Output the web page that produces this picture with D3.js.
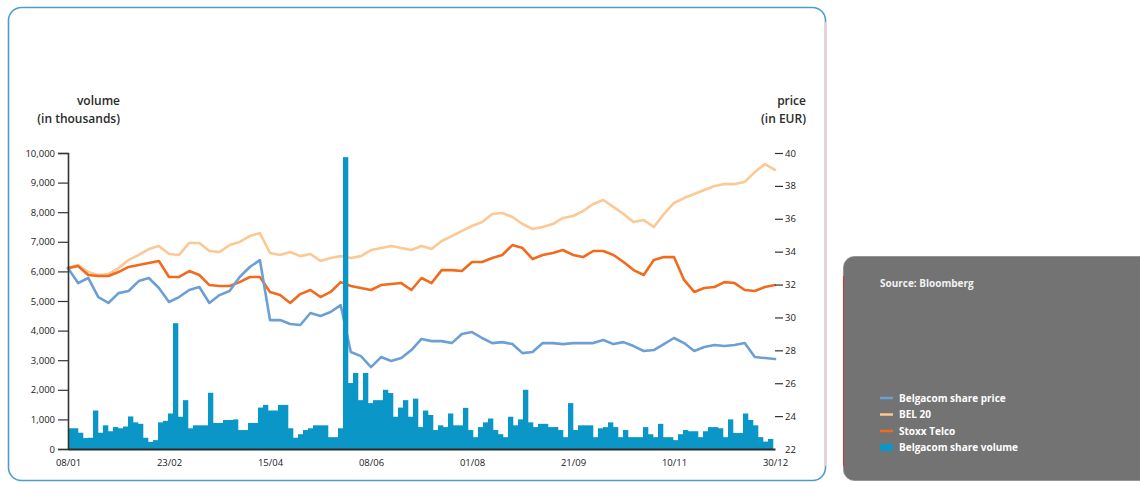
<!DOCTYPE html>
<html>
<head>
<meta charset="utf-8">
<script src="https://cdn.jsdelivr.net/npm/d3@7"></script>
<style>
  html, body { margin: 0; padding: 0; background: #fff; }
  svg { display: block; }
  text { font-family: "Open Sans", "Liberation Sans", sans-serif; }
</style>
</head>
<body>
<svg id="chart" width="1140" height="482"></svg>
<script>
// Session labels along the time axis (one every ten sampled sessions)
const dateLabels = ["08/01", "23/02", "15/04", "08/06", "01/08", "21/09", "10/11", "30/12"];

// Left axis: traded volume, in thousands of shares
const volumeTicks = [0, 1000, 2000, 3000, 4000, 5000, 6000, 7000, 8000, 9000, 10000];
// Right axis: price, in EUR
const priceTicks = [22, 24, 26, 28, 30, 32, 34, 36, 38, 40];

// Price series (EUR), sampled sessions
const belgacomPrice = [
  33.00, 32.09, 32.40, 31.24, 30.88, 31.48, 31.61, 32.21, 32.40, 31.79,
  30.94, 31.24, 31.67, 31.85, 30.88, 31.36, 31.61, 32.46, 33.07, 33.49,
  29.84, 29.84, 29.60, 29.54, 30.27, 30.09, 30.33, 30.75, 27.90, 27.65,
  26.98, 27.59, 27.35, 27.53, 28.02, 28.69, 28.56, 28.56, 28.44, 28.99,
  29.11, 28.75, 28.44, 28.50, 28.38, 27.83, 27.90, 28.44, 28.44, 28.38,
  28.44, 28.44, 28.44, 28.63, 28.38, 28.50, 28.26, 27.96, 28.02, 28.38,
  28.75, 28.44, 27.96, 28.20, 28.32, 28.26, 28.32, 28.44, 27.59, 27.53,
  27.47
];
const bel20 = [
  33.00, 33.19, 32.76, 32.58, 32.64, 33.00, 33.49, 33.80, 34.16, 34.34,
  33.86, 33.80, 34.53, 34.53, 34.04, 33.98, 34.40, 34.59, 34.95, 35.13,
  33.92, 33.80, 33.98, 33.73, 33.86, 33.43, 33.61, 33.73, 33.61, 33.73,
  34.10, 34.22, 34.34, 34.22, 34.10, 34.34, 34.16, 34.65, 34.95, 35.26,
  35.56, 35.80, 36.29, 36.35, 36.11, 35.68, 35.38, 35.50, 35.68, 36.05,
  36.17, 36.47, 36.90, 37.14, 36.72, 36.29, 35.80, 35.92, 35.50, 36.29,
  36.96, 37.26, 37.51, 37.75, 37.99, 38.11, 38.11, 38.24, 38.84, 39.33,
  38.97
];
const stoxxTelco = [
  33.00, 33.13, 32.58, 32.52, 32.52, 32.76, 33.07, 33.19, 33.31, 33.43,
  32.46, 32.46, 32.82, 32.58, 31.97, 31.91, 31.91, 32.15, 32.46, 32.46,
  31.55, 31.36, 30.88, 31.42, 31.67, 31.24, 31.55, 32.15, 31.91, 31.79,
  31.67, 31.97, 32.03, 32.09, 31.67, 32.40, 32.09, 32.88, 32.88, 32.82,
  33.37, 33.37, 33.61, 33.80, 34.40, 34.22, 33.55, 33.80, 33.92, 34.10,
  33.80, 33.67, 34.04, 34.04, 33.80, 33.37, 32.88, 32.58, 33.49, 33.67,
  33.67, 32.28, 31.55, 31.79, 31.85, 32.15, 32.09, 31.67, 31.61, 31.85,
  31.97
];

// Daily traded volume (thousands), finer sampling
const belgacomVolume = [
  700, 700, 550, 370, 380, 1300, 550, 800, 600, 740,
  700, 760, 1100, 900, 850, 380, 240, 300, 900, 950,
  1200, 4250, 1090, 1650, 700, 800, 800, 800, 1900, 880,
  880, 980, 980, 1000, 640, 640, 880, 880, 1400, 1490,
  1300, 1300, 1490, 1490, 700, 380, 500, 640, 700, 800,
  800, 800, 400, 400, 700, 9860, 2230, 2570, 1650, 2570,
  1550, 1650, 1650, 2000, 1890, 1090, 1400, 1650, 1090, 1700,
  740, 1300, 1150, 640, 800, 740, 1200, 800, 800, 1390,
  640, 400, 740, 900, 1030, 640, 500, 400, 1090, 800,
  1000, 2000, 900, 740, 850, 850, 740, 740, 640, 400,
  1550, 640, 800, 800, 800, 400, 700, 740, 900, 740,
  400, 640, 400, 400, 400, 740, 500, 400, 850, 400,
  400, 300, 500, 640, 600, 600, 400, 600, 740, 740,
  700, 400, 1000, 540, 540, 1200, 980, 800, 400, 250,
  340
];

const legendItems = [
  { label: "Belgacom share price", color: "#6c9fd6", kind: "line" },
  { label: "BEL 20", color: "#fcc894", kind: "line" },
  { label: "Stoxx Telco", color: "#f26b1d", kind: "line" },
  { label: "Belgacom share volume", color: "#0a97c8", kind: "bar" }
];

const svg = d3.select("#chart");

const plot = { left: 68, right: 775, top: 153, bottom: 449 };

const x = d3.scaleLinear().domain([0, belgacomPrice.length - 1]).range([plot.left, plot.right]);
const xBar = d3.scaleBand().domain(d3.range(belgacomVolume.length)).range([plot.left, 773]).padding(0);
const yVol = d3.scaleLinear().domain([0, 10000]).range([plot.bottom, plot.top]);
const yPrice = d3.scaleLinear().domain([22, 40]).range([plot.bottom, plot.top]);

// Outer frame
svg.append("rect")
  .attr("x", 8.5).attr("y", 7.5).attr("width", 817).attr("height", 473)
  .attr("rx", 13).attr("ry", 13)
  .attr("fill", "none").attr("stroke", "#4f9bd0").attr("stroke-width", 1.6);
svg.append("line")
  .attr("x1", 825.5).attr("x2", 825.5).attr("y1", 22).attr("y2", 466)
  .attr("stroke", "#f7c9c9").attr("stroke-width", 1.8);

// Legend panel
const lg = svg.append("g");
lg.append("rect")
  .attr("x", 843.5).attr("y", 256.5).attr("width", 320).attr("height", 224)
  .attr("rx", 11).attr("fill", "#737373").attr("stroke", "#8a8a8a").attr("stroke-width", 0.8);
lg.append("line")
  .attr("x1", 843.5).attr("x2", 843.5).attr("y1", 276).attr("y2", 466)
  .attr("stroke", "#d8322b").attr("stroke-width", 1);
lg.append("text")
  .attr("x", 880).attr("y", 287)
  .attr("fill", "#f2f2f2").attr("font-size", 10).attr("font-weight", 700)
  .text("Source: Bloomberg");
legendItems.forEach((d, i) => {
  const cy = 398 + i * 16.5;
  if (d.kind === "line") {
    lg.append("line").attr("x1", 880).attr("x2", 893).attr("y1", cy).attr("y2", cy)
      .attr("stroke", d.color).attr("stroke-width", 2.5);
  } else {
    lg.append("rect").attr("x", 880).attr("y", cy - 3.5).attr("width", 13).attr("height", 7)
      .attr("fill", d.color);
  }
  lg.append("text").attr("x", 899).attr("y", cy + 3.5)
    .attr("fill", "#ffffff").attr("font-size", 10).attr("font-weight", 700)
    .text(d.label);
});

// Axis titles
const titleStyle = sel => sel.attr("fill", "#2a2a2a").attr("font-size", 12).attr("font-weight", 600);
svg.append("text").attr("x", 120).attr("y", 105).attr("text-anchor", "end").call(titleStyle).text("volume");
svg.append("text").attr("x", 120).attr("y", 123).attr("text-anchor", "end").call(titleStyle).text("(in thousands)");
svg.append("text").attr("x", 806).attr("y", 105).attr("text-anchor", "end").call(titleStyle).text("price");
svg.append("text").attr("x", 806).attr("y", 123).attr("text-anchor", "end").call(titleStyle).text("(in EUR)");

// Price lines
const line = d3.line().x((d, i) => x(i)).y(d => yPrice(d)).curve(d3.curveLinear);
[[bel20, "#fcc894"], [stoxxTelco, "#f26b1d"], [belgacomPrice, "#6c9fd6"]].forEach(([data, color]) => {
  svg.append("path").datum(data)
    .attr("d", line)
    .attr("fill", "none").attr("stroke", color)
    .attr("stroke-width", 2.6).attr("stroke-linejoin", "round").attr("stroke-linecap", "round");
});

// Volume bars
svg.append("g").selectAll("rect").data(belgacomVolume).join("rect")
  .attr("x", (d, i) => xBar(i))
  .attr("width", xBar.bandwidth() + 0.3)
  .attr("y", d => yVol(d))
  .attr("height", d => plot.bottom - yVol(d))
  .attr("fill", "#0a97c8");

// Left axis (volume)
const leftAxis = d3.axisLeft(yVol).tickValues(volumeTicks).tickFormat(d3.format(",")).tickSize(10).tickPadding(3);
const gl = svg.append("g").attr("transform", `translate(${plot.left},0)`).call(leftAxis);
gl.select(".domain").attr("stroke", "#333").attr("stroke-width", 1.6);
gl.selectAll(".tick line").attr("stroke", "#333").attr("stroke-width", 1.2);
gl.selectAll(".tick text").attr("fill", "#1a1a1a").attr("font-size", 9.5)
  .attr("font-family", "Roboto, sans-serif");

// Right axis (price): short dashes, no axis line
const rightAxis = d3.axisRight(yPrice).tickValues(priceTicks).tickFormat(d3.format("d")).tickSize(8).tickPadding(2);
const gr = svg.append("g").attr("transform", `translate(${plot.right},0)`).call(rightAxis);
gr.select(".domain").remove();
gr.selectAll(".tick line").attr("stroke", "#333").attr("stroke-width", 1.2)
  .filter(d => d === 22).remove();
gr.selectAll(".tick text").attr("fill", "#1a1a1a").attr("font-size", 9.5)
  .attr("font-family", "Roboto, sans-serif");

// Bottom axis (sessions)
const bottomAxis = d3.axisBottom(x).tickValues(d3.range(0, belgacomPrice.length, 10))
  .tickFormat((d, i) => dateLabels[i]).tickSize(0).tickPadding(10);
const gb = svg.append("g").attr("transform", `translate(0,${plot.bottom})`).call(bottomAxis);
gb.select(".domain").attr("stroke", "#2b2b2b").attr("stroke-width", 2.2);
gb.selectAll(".tick text").attr("fill", "#1a1a1a").attr("font-size", 9.5)
  .attr("font-family", "Roboto, sans-serif");
</script>
</body>
</html>
